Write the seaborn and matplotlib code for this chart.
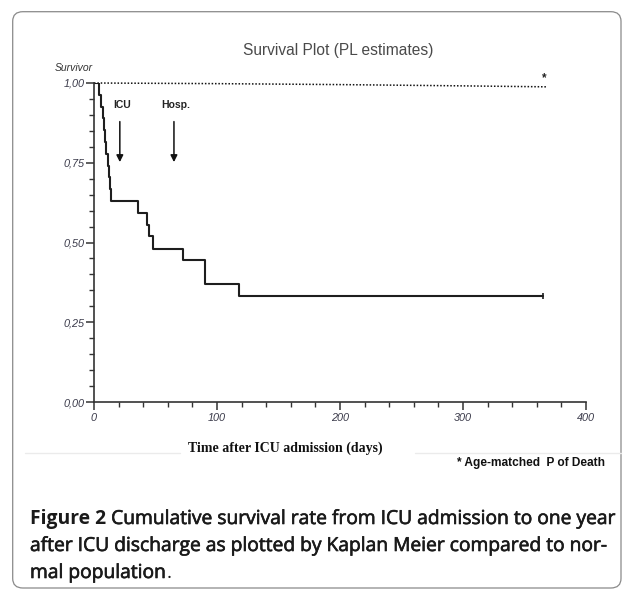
import numpy as np
import pandas as pd
import matplotlib
matplotlib.use("Agg")
import matplotlib.pyplot as plt
import matplotlib.patheffects as pe
import seaborn as sns
from matplotlib.patches import FancyBboxPatch
from matplotlib.lines import Line2D
from matplotlib.ticker import MultipleLocator, FuncFormatter

# Kaplan-Meier survival
km_days = [0, 4, 6, 7, 8, 9, 10, 11, 12, 13, 14, 36, 43, 45, 48, 72, 90, 118, 365]
km_surv = [1.0, 0.963, 0.926, 0.889, 0.852, 0.815, 0.778, 0.741, 0.704, 0.667,
           0.630, 0.593, 0.556, 0.519, 0.481, 0.444, 0.370, 0.333, 0.333]

# age-matched normal population
ref_days = [0, 100, 200, 300, 368]
ref_surv = [1.0, 0.998, 0.995, 0.991, 0.988]

# arrows
event_labels = ["ICU", "Hosp."]
event_days = [21, 65]

x_ticks = [0, 100, 200, 300, 400]
y_ticks = [0.0, 0.25, 0.5, 0.75, 1.0]

sns.set_style("ticks")
plt.rcParams["font.family"] = ["Liberation Sans", "DejaVu Sans"]

W, H = 633, 596
fig = plt.figure(figsize=(W / 100, H / 100), dpi=100)
fig.patch.set_facecolor("white")

# rounded frame
frame = FancyBboxPatch((12.7 / W, 1 - 588 / H), (621 - 12.7) / W, (588 - 11.7) / H,
                       boxstyle="round,pad=0,rounding_size=0.016",
                       transform=fig.transFigure, fill=False, ec="#8a8a8a", lw=0.9)
fig.patches.append(frame)

ax = fig.add_axes([94 / W, 1 - 402 / H, 492 / W, 319 / H])
km = pd.DataFrame({"days": km_days, "surv": km_surv})
ref = pd.DataFrame({"days": ref_days, "surv": ref_surv})

sns.lineplot(data=km, x="days", y="surv", drawstyle="steps-post", estimator=None,
             color="#1e1e1e", lw=1.5, ax=ax)
sns.lineplot(data=ref, x="days", y="surv", estimator=None, color="#111111",
             lw=1.1, linestyle=(0, (1, 1.2)), ax=ax, clip_on=False)
ax.plot([km_days[-1]], [km_surv[-1]], marker="|", ms=5, mew=1.2, color="#1e1e1e")
ax.text(ref_days[-1] - 2, 1.016, "*", ha="center", va="center", fontsize=8.5,
        fontweight="bold", color="#222")

for lab, d in zip(event_labels, event_days):
    ax.text(d + 1.5, 0.931, lab, ha="center", va="center", fontsize=7.5,
            fontweight="bold", color="#222")
    ax.annotate("", xy=(d, 0.752), xytext=(d, 0.879),
                arrowprops=dict(arrowstyle="-|>", color="#111", lw=1.1,
                                mutation_scale=10, shrinkA=0, shrinkB=0))

ax.set_xlim(0, 400)
ax.set_ylim(0, 1)
ax.set_xticks(x_ticks)
ax.set_yticks(y_ticks)
ax.xaxis.set_minor_locator(MultipleLocator(20))
ax.yaxis.set_minor_locator(MultipleLocator(0.05))
ax.yaxis.set_major_formatter(FuncFormatter(lambda v, p: f"{v:.2f}".replace(".", ",")))
ax.set_xlabel("")
ax.set_ylabel("")
sns.despine(ax=ax)
for s in ["left", "bottom"]:
    ax.spines[s].set_linewidth(1.2)
    ax.spines[s].set_color("#333")
ax.tick_params(which="major", length=6, width=1.1, color="#333", labelsize=7.8,
               labelcolor="#3a3a4a")
ax.tick_params(which="minor", length=3.5, width=1.0, color="#333")
ax.tick_params(axis="y", which="major", pad=1)
ax.tick_params(axis="x", which="major", pad=2)
for t in ax.get_xticklabels() + ax.get_yticklabels():
    t.set_style("italic")
ax.patch.set_alpha(0)

fig.text(338 / W, 1 - 50 / H, "Survival Plot (PL estimates)", ha="center", va="center",
         fontsize=11.2, color="#4a4a4a")
fig.text(74 / W, 1 - 68 / H, "Survivor", ha="center", va="center", fontsize=7.5,
         style="italic", color="#333")

fig.text(285 / W, 1 - 448 / H, "Time after ICU admission (days)", ha="center", va="center",
         fontsize=10, fontweight="bold", family=["Liberation Serif", "DejaVu Serif"],
         color="#111")
fig.add_artist(Line2D([25 / W, 180 / W], [1 - 453 / H] * 2, transform=fig.transFigure,
                      color="#ebebeb", lw=1))
fig.add_artist(Line2D([415 / W, 621 / W], [1 - 453 / H] * 2, transform=fig.transFigure,
                      color="#ebebeb", lw=1))
fig.text(531 / W, 1 - 463 / H, "* Age-matched  P of Death", ha="center", va="center",
         fontsize=8.6, fontweight="bold",
         family=["Liberation Sans Narrow", "Liberation Sans"], color="#111")

# caption
cap_font = ["Open Sans", "DejaVu Sans"]
semi = [pe.withStroke(linewidth=0.45, foreground="#1a1a1a")]
cap_lines = [
    [("Figure 2", "bold"), (" Cumulative survival rate from ICU admission to one year", "semi")],
    [("after ICU discharge as plotted by Kaplan Meier compared to nor-", "semi")],
    [("mal population", "semi"), (".", "normal")],
]
cap_base = [524, 551, 578]
renderer = fig.canvas.get_renderer()
size = 13.85
for parts, yb in zip(cap_lines, cap_base):
    x = 30 / W
    for txt, wt in parts:
        t = fig.text(x, 1 - yb / H, txt, fontsize=size,
                     fontweight="bold" if wt == "bold" else "normal", family=cap_font,
                     va="baseline", ha="left", color="#1a1a1a")
        if wt == "semi":
            t.set_path_effects(semi)
        x += t.get_window_extent(renderer).width / W

fig.savefig("out.png", dpi=100)
